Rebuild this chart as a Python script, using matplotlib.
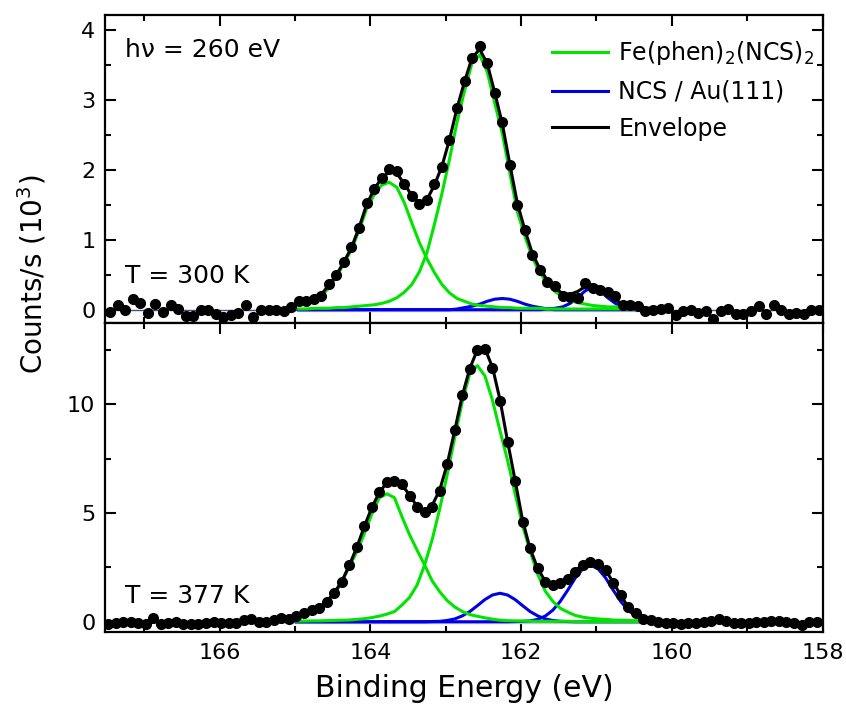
import numpy as np
import matplotlib.pyplot as plt
from matplotlib.ticker import MultipleLocator

# scan grid (eV): 95 points, 0.1 eV steps, high -> low binding energy
step = 0.1
top_start = 167.45
bottom_start = 167.48
fit_first, fit_last = 25, 72   # data indices covered by the fit curves

# T = 300 K  (10^3 counts/s)
top_counts = [-0.03, 0.06, -0.01, 0.15, 0.09, -0.05, 0.08, -0.04, 0.06, 0.01,
              -0.09, -0.09, -0.01, -0.01, -0.06, -0.10, -0.07, -0.05, 0.06, -0.10,
              -0.01, -0.01, -0.01, -0.02, 0.04, 0.12, 0.13, 0.15, 0.20, 0.36,
              0.50, 0.68, 0.89, 1.17, 1.52, 1.72, 1.88, 2.01, 1.98, 1.80,
              1.62, 1.51, 1.57, 1.80, 2.04, 2.42, 2.88, 3.26, 3.60, 3.76,
              3.52, 3.10, 2.68, 2.07, 1.50, 1.14, 0.78, 0.57, 0.40, 0.34,
              0.20, 0.18, 0.17, 0.38, 0.31, 0.28, 0.25, 0.19, 0.06, 0.06,
              0.05, -0.02, 0.00, 0.01, 0.03, -0.07, -0.02, 0.00, -0.05, -0.02,
              -0.13, -0.02, 0.01, -0.06, -0.06, -0.02, 0.05, -0.06, 0.07, 0.00,
              -0.06, -0.05, -0.06, 0.00, 0.00]
top_envelope = [0.12, 0.13, 0.16, 0.22, 0.35, 0.50, 0.68, 0.89, 1.17, 1.50,
                1.72, 1.88, 1.97, 1.95, 1.80, 1.63, 1.53, 1.57, 1.78, 2.05,
                2.43, 2.88, 3.26, 3.60, 3.72, 3.52, 3.10, 2.66, 2.08, 1.52,
                1.14, 0.80, 0.58, 0.42, 0.31, 0.23, 0.22, 0.26, 0.33, 0.36,
                0.31, 0.22, 0.14, 0.08, 0.05, 0.03, 0.02, 0.02]
top_fe_a = [0.11, 0.13, 0.15, 0.20, 0.31, 0.47, 0.66, 0.86, 1.13, 1.44,
            1.64, 1.78, 1.82, 1.75, 1.53, 1.24, 0.96, 0.73, 0.53, 0.36,
            0.24, 0.16, 0.12, 0.08, 0.06, 0.05, 0.04, 0.03, 0.03, 0.02,
            0.02, 0.02, 0.02, 0.01, 0.01, 0.01, 0.01, 0.01, 0.01, 0.01,
            0.01, 0.01, 0.01, 0.01, 0.01, 0.01, 0.01, 0.01]
top_fe_b = [0.01, 0.01, 0.02, 0.02, 0.02, 0.03, 0.03, 0.04, 0.05, 0.06,
            0.07, 0.09, 0.12, 0.17, 0.25, 0.36, 0.54, 0.81, 1.22, 1.66,
            2.15, 2.68, 3.13, 3.53, 3.64, 3.40, 2.95, 2.52, 1.95, 1.40,
            1.05, 0.74, 0.53, 0.37, 0.26, 0.18, 0.13, 0.10, 0.08, 0.06,
            0.05, 0.04, 0.04, 0.03, 0.03, 0.02, 0.02, 0.02]
top_ncs_a = [0, 0, 0, 0, 0, 0, 0, 0, 0, 0,
             0, 0, 0, 0, 0, 0, 0, 0, 0, 0,
             0.00, 0.01, 0.03, 0.05, 0.08, 0.12, 0.15, 0.16, 0.15, 0.12,
             0.08, 0.05, 0.03, 0.01, 0, 0, 0, 0, 0, 0,
             0, 0, 0, 0, 0, 0, 0, 0]
top_ncs_b = [0, 0, 0, 0, 0, 0, 0, 0, 0, 0,
             0, 0, 0, 0, 0, 0, 0, 0, 0, 0,
             0, 0, 0, 0, 0, 0, 0, 0, 0, 0,
             0, 0, 0, 0.01, 0.02, 0.04, 0.09, 0.17, 0.27, 0.32,
             0.27, 0.17, 0.09, 0.04, 0.02, 0.01, 0.00, 0.00]

# T = 377 K
bottom_counts = [-0.11, -0.05, 0.00, 0.00, -0.08, -0.11, 0.16, -0.11, -0.08, 0.00,
                 -0.11, -0.11, -0.11, -0.08, 0.00, -0.08, -0.05, -0.08, 0.08, 0.11,
                 0.00, 0.00, 0.08, 0.16, 0.11, 0.28, 0.40, 0.54, 0.65, 0.93,
                 1.34, 1.81, 2.61, 3.42, 4.40, 5.29, 5.96, 6.40, 6.46, 6.31,
                 5.80, 5.27, 5.06, 5.29, 6.03, 7.26, 8.80, 10.41, 11.63, 12.47,
                 12.54, 11.66, 10.16, 8.26, 6.49, 4.60, 3.38, 2.46, 1.84, 1.69,
                 1.80, 1.95, 2.30, 2.60, 2.76, 2.67, 2.40, 1.80, 1.23, 0.68,
                 0.40, 0.11, 0.08, 0.00, -0.06, -0.06, -0.10, -0.06, -0.04, 0.00,
                 0.05, 0.11, 0.03, -0.04, -0.04, -0.04, 0.00, 0.01, 0.03, 0.02,
                 0.00, -0.06, -0.16, 0.00, -0.01]
bottom_envelope = [0.28, 0.40, 0.52, 0.66, 0.93, 1.32, 1.85, 2.58, 3.42, 4.38,
                   5.25, 5.95, 6.40, 6.48, 6.30, 5.82, 5.30, 5.10, 5.35, 6.05,
                   7.25, 8.80, 10.40, 11.65, 12.50, 12.55, 11.70, 10.20, 8.30, 6.50,
                   4.65, 3.35, 2.45, 1.86, 1.72, 1.82, 2.02, 2.35, 2.62, 2.76,
                   2.66, 2.38, 1.82, 1.22, 0.68, 0.36, 0.15, 0.06]
bottom_fe_a = [0.25, 0.34, 0.46, 0.62, 0.88, 1.25, 1.80, 2.55, 3.20, 4.05,
               4.95, 5.70, 5.88, 5.70, 4.82, 4.00, 3.29, 2.61, 1.88, 1.38,
               0.97, 0.68, 0.47, 0.33, 0.25, 0.18, 0.12, 0.07, 0.05, 0.04,
               0.03, 0.03, 0.02, 0.02, 0.02, 0.02, 0.02, 0.01, 0.01, 0.01,
               0.01, 0.01, 0.01, 0.01, 0.01, 0.01, 0.01, 0.01]
bottom_fe_b = [0.03, 0.03, 0.04, 0.04, 0.05, 0.06, 0.07, 0.08, 0.11, 0.14,
               0.19, 0.26, 0.35, 0.47, 0.77, 1.12, 1.69, 2.61, 3.77, 5.18,
               6.77, 8.47, 10.12, 11.42, 11.77, 11.30, 10.18, 8.77, 7.42, 5.89,
               4.41, 3.24, 2.18, 1.41, 0.94, 0.62, 0.44, 0.29, 0.21, 0.16,
               0.13, 0.11, 0.08, 0.07, 0.06, 0.05, 0.04, 0.04]
bottom_ncs_a = [0, 0, 0, 0, 0, 0, 0, 0, 0, 0,
                0, 0, 0, 0, 0, 0, 0, 0, 0.01, 0.02,
                0.06, 0.13, 0.27, 0.47, 0.74, 1.02, 1.23, 1.31, 1.23, 1.02,
                0.74, 0.47, 0.27, 0.13, 0.06, 0.02, 0.01, 0, 0, 0,
                0, 0, 0, 0, 0, 0, 0, 0]
bottom_ncs_b = [0, 0, 0, 0, 0, 0, 0, 0, 0, 0,
                0, 0, 0, 0, 0, 0, 0, 0, 0, 0,
                0, 0, 0, 0, 0, 0, 0, 0, 0, 0.01,
                0.02, 0.04, 0.11, 0.26, 0.53, 0.94, 1.46, 2.02, 2.44, 2.60,
                2.44, 2.02, 1.46, 0.94, 0.53, 0.26, 0.11, 0.04]

green = '#00e400'
blue = '#0000e8'


def draw_panel(ax, start, counts, env, fe_a, fe_b, ncs_a, ncs_b):
    e = np.round(start - step * np.arange(len(counts)), 2)
    ef = e[fit_first:fit_last + 1]
    ax.plot(e, np.zeros(len(e)), color='#4b5275', lw=1, zorder=1)
    ax.plot(ef, np.zeros(len(ef)), color='#c4c4d2', lw=2.4, zorder=2)
    ax.plot(ef, ncs_a, color=blue, lw=2.2, zorder=3, label='NCS / Au(111)')
    ax.plot(ef, ncs_b, color=blue, lw=2.2, zorder=3)
    ax.plot(ef, fe_a, color=green, lw=2.2, zorder=4,
            label='Fe(phen)$_2$(NCS)$_2$')
    ax.plot(ef, fe_b, color=green, lw=2.2, zorder=4)
    ax.plot(ef, env, color='k', lw=2.2, zorder=5, label='Envelope')
    ax.plot(e, counts, 'o', color='k', ms=7, zorder=6)


fig = plt.figure(figsize=(8.46, 7.04), dpi=100)
ax1 = fig.add_axes([0.1241, 0.5412, 0.8483, 0.4375])
ax2 = fig.add_axes([0.1241, 0.1023, 0.8483, 0.4389], sharex=ax1)

draw_panel(ax1, top_start, top_counts, top_envelope,
           top_fe_a, top_fe_b, top_ncs_a, top_ncs_b)
draw_panel(ax2, bottom_start, bottom_counts, bottom_envelope,
           bottom_fe_a, bottom_fe_b, bottom_ncs_a, bottom_ncs_b)

ax1.set_xlim(167.52, 158.0)
ax1.set_ylim(-0.19, 4.21)
ax2.set_ylim(-0.47, 13.73)

ax1.xaxis.set_major_locator(MultipleLocator(2))
ax1.xaxis.set_minor_locator(MultipleLocator(1))
ax1.yaxis.set_major_locator(MultipleLocator(1))
ax1.yaxis.set_minor_locator(MultipleLocator(0.5))
ax2.yaxis.set_major_locator(MultipleLocator(5))
ax2.yaxis.set_minor_locator(MultipleLocator(2.5))

for ax in (ax1, ax2):
    for s in ax.spines.values():
        s.set_linewidth(1.6)
    ax.tick_params(which='both', direction='in', top=True, right=True,
                   width=1.5, labelsize=16)
    ax.tick_params(which='major', length=8)
    ax.tick_params(which='minor', length=4.5)
    ax.tick_params(axis='y', pad=7)
    ax.tick_params(axis='x', pad=8)
ax1.tick_params(labelbottom=False)

h, l = ax1.get_legend_handles_labels()
order = [1, 0, 2]
ax1.legend([h[i] for i in order], [l[i] for i in order],
           loc='upper left', bbox_to_anchor=(0.6224, 0.922),
           borderaxespad=0, borderpad=0, frameon=False, fontsize=17,
           handlelength=2.4, handletextpad=0.42, labelspacing=0.54)

ax1.text(0.028, 0.864, 'h\u03bd = 260 eV', transform=ax1.transAxes,
         fontsize=18, va='baseline')
ax1.text(0.028, 0.129, 'T = 300 K', transform=ax1.transAxes,
         fontsize=18, va='baseline')
ax2.text(0.028, 0.094, 'T = 377 K', transform=ax2.transAxes,
         fontsize=18, va='baseline')

fig.text(0.0378, 0.611, 'Counts/s (10$^3$)', rotation=90, fontsize=20,
         ha='center', va='center')
fig.text(0.5485, 0.0105, 'Binding Energy (eV)', fontsize=21.5,
         ha='center', va='baseline')

fig.savefig('out.png', dpi=100)
